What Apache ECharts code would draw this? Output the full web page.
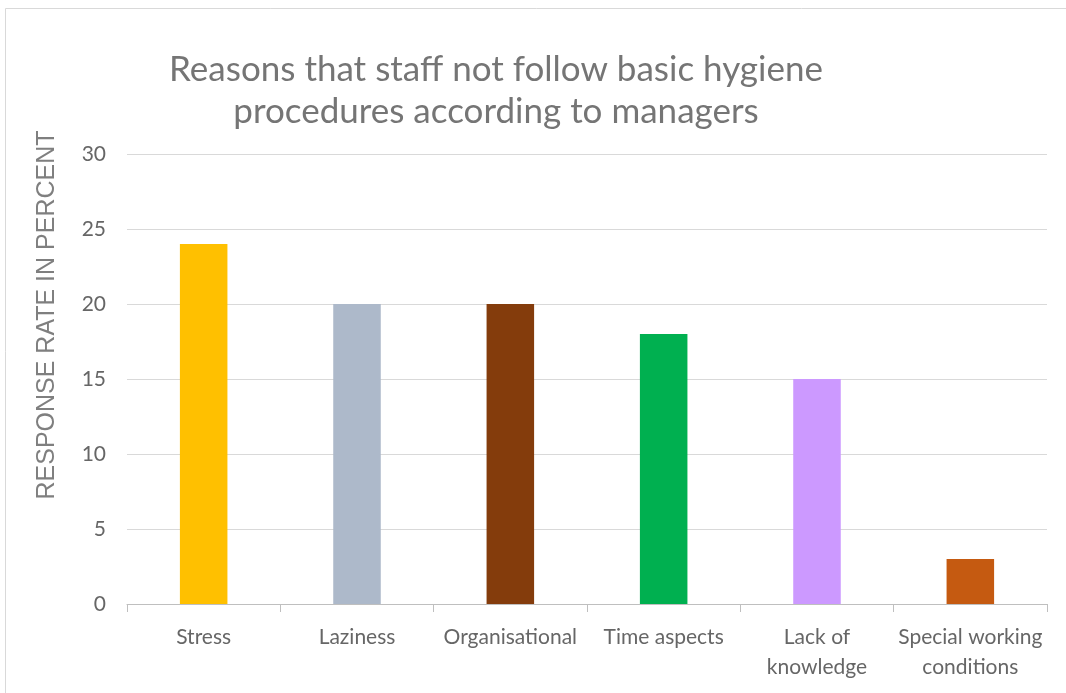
<!DOCTYPE html>
<html>
<head>
<meta charset="utf-8">
<script src="https://cdn.jsdelivr.net/npm/echarts@6/dist/echarts.min.js"></script>
<style>
  html, body { margin: 0; padding: 0; background: #ffffff; }
  #DataChart { width: 1066px; height: 693px; }
</style>
</head>
<body>
<div id="DataChart"></div>
<script>
// data
var categories = ['Stress', 'Laziness', 'Organisational', 'Time aspects', 'Lack of\nknowledge', 'Special working\nconditions'];
var values = [24, 20, 20, 18, 15, 3];
var barColors = ['#FFC000', '#ADB9CA', '#843C0C', '#00B050', '#CC99FF', '#C55A11'];
var yTicks = [0, 5, 10, 15, 20, 25, 30];

var myChart = echarts.init(document.getElementById('DataChart'));

var option = {
    animation: false,
    graphic: [
        {
            type: 'rect',
            shape: { x: 5.5, y: 8.5, width: 1070, height: 700 },
            style: { fill: 'none', stroke: '#d9d9d9', lineWidth: 1 }
        }
    ],
    title: {
        text: 'Reasons that staff not follow basic hygiene\nprocedures according to managers',
        left: 491,
        top: 44,
        textAlign: 'center',
        textStyle: {
            fontFamily: 'Lato',
            fontSize: 35,
            fontWeight: 'normal',
            color: '#757575',
            lineHeight: 42
        }
    },
    grid: {
        left: 127,
        right: 19,
        top: 154,
        bottom: 89
    },
    xAxis: {
        type: 'category',
        data: categories,
        axisLine: { lineStyle: { color: '#bfbfbf', width: 1 } },
        axisTick: { show: true, length: 8, lineStyle: { color: '#bfbfbf' } },
        axisLabel: {
            fontFamily: 'Lato',
            fontSize: 21,
            color: '#666666',
            lineHeight: 30,
            margin: 18,
            interval: 0
        }
    },
    yAxis: {
        type: 'value',
        min: yTicks[0],
        max: yTicks[yTicks.length - 1],
        interval: 5,
        name: 'RESPONSE RATE IN PERCENT',
        nameLocation: 'middle',
        nameGap: 67,
        nameTextStyle: {
            fontFamily: 'Liberation Sans',
            fontSize: 25,
            color: '#7f7f7f',
            padding: [0, 0, 0, 128]
        },
        axisLine: { show: false },
        axisTick: { show: false },
        axisLabel: {
            fontFamily: 'Lato',
            fontSize: 21,
            color: '#666666',
            margin: 21
        },
        splitLine: { lineStyle: { color: '#d9d9d9', width: 1 } }
    },
    series: [
        {
            type: 'bar',
            barWidth: '31%',
            data: values.map(function (v, i) {
                return { value: v, itemStyle: { color: barColors[i] } };
            })
        }
    ]
};

myChart.setOption(option);
</script>
</body>
</html>
